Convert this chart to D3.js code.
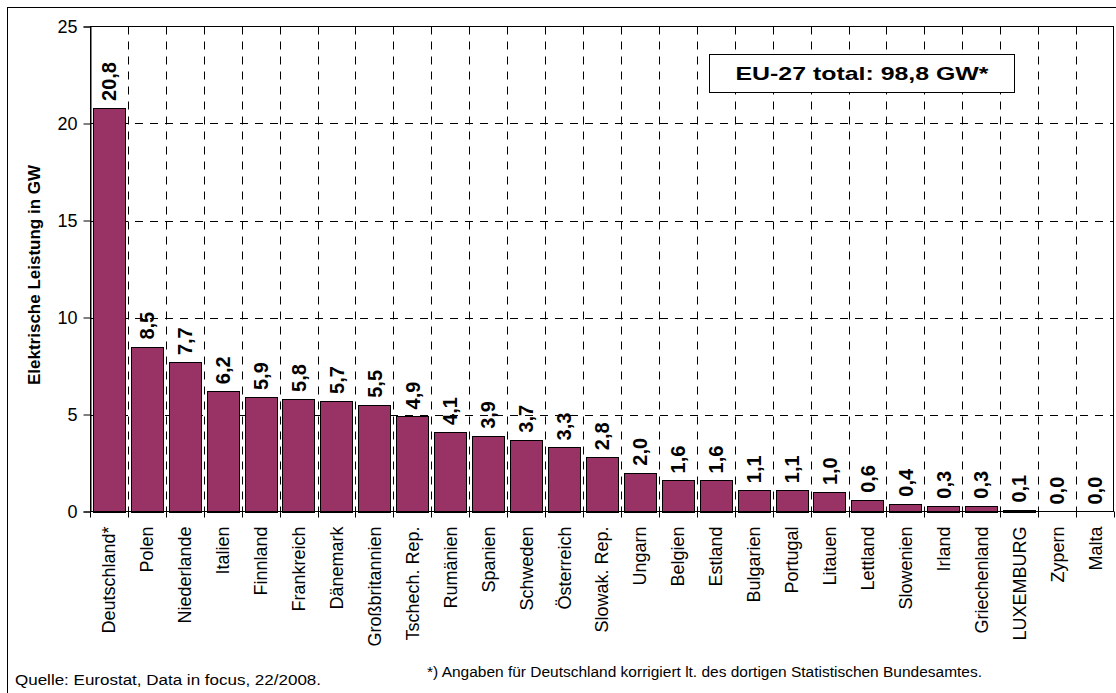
<!DOCTYPE html>
<html>
<head>
<meta charset="utf-8">
<script src="https://cdn.jsdelivr.net/npm/d3@7"></script>
<style>
  body { margin: 0; background: #fff; }
  text { font-family: "Liberation Sans", Arial, sans-serif; }
</style>
</head>
<body>
<div id="chart"></div>
<script>
// countries and values (GW)
var countries = ["Deutschland*", "Polen", "Niederlande", "Italien", "Finnland", "Frankreich",
    "Dänemark", "Großbritannien", "Tschech. Rep.", "Rumänien", "Spanien", "Schweden",
    "Österreich", "Slowak. Rep.", "Ungarn", "Belgien", "Estland", "Bulgarien", "Portugal",
    "Litauen", "Lettland", "Slowenien", "Irland", "Griechenland", "LUXEMBURG", "Zypern", "Malta"];
var values = [20.8, 8.5, 7.7, 6.2, 5.9, 5.8, 5.7, 5.5, 4.9, 4.1, 3.9, 3.7, 3.3, 2.8, 2.0,
    1.6, 1.6, 1.1, 1.1, 1.0, 0.6, 0.4, 0.3, 0.3, 0.1, 0.0, 0.0];
var yTicks = [0, 5, 10, 15, 20, 25];

var totalText = "EU-27 total: 98,8 GW*";
var yTitle = "Elektrische Leistung in GW";
var source = "Quelle: Eurostat, Data in focus, 22/2008.";
var footnote = "*) Angaben für Deutschland korrigiert lt. des dortigen Statistischen Bundesamtes.";

var W = 1116, H = 693;
var plot = { left: 90, right: 1114, top: 26.5, bottom: 511.5 };

var svg = d3.select("#chart")
    .append("svg")
    .attr("width", W)
    .attr("height", H);

// outer frame (cut off at right/bottom like the original)
svg.append("rect")
    .attr("x", 7.5).attr("y", 7.5)
    .attr("width", 1130).attr("height", 710)
    .attr("fill", "none")
    .attr("stroke", "#000");

var x = d3.scaleBand()
    .domain(countries)
    .range([plot.left, plot.right])
    .paddingInner(0.15)
    .paddingOuter(0.075);

var y = d3.scaleLinear()
    .domain([0, 25])
    .range([plot.bottom, plot.top]);

// category boundaries (grid lines and x ticks sit between the bars)
var boundaries = d3.range(countries.length + 1).map(function (i) {
    return plot.left + i * (plot.right - plot.left) / countries.length;
});

var fmt = function (v) { return d3.format(".1f")(v).replace(".", ","); };

// grid
var grid = svg.append("g").attr("class", "grid");
grid.selectAll("line.h")
    .data(yTicks.filter(function (d) { return d > 0 && d < 25; }))
    .enter()
    .append("line")
    .attr("class", "h")
    .attr("x1", plot.left).attr("x2", plot.right)
    .attr("y1", function (d) { return Math.round(y(d)) + 0.5; })
    .attr("y2", function (d) { return Math.round(y(d)) + 0.5; })
    .attr("stroke", "#000")
    .attr("stroke-width", 1)
    .attr("stroke-dasharray", "8,7");

grid.selectAll("line.v")
    .data(boundaries.slice(1, -1))
    .enter()
    .append("line")
    .attr("class", "v")
    .attr("x1", function (d) { return Math.round(d) + 0.5; })
    .attr("x2", function (d) { return Math.round(d) + 0.5; })
    .attr("y1", plot.top).attr("y2", plot.bottom)
    .attr("stroke", "#000")
    .attr("stroke-width", 1)
    .attr("stroke-dasharray", "8,7");

// bars
svg.append("g")
    .selectAll("rect")
    .data(values)
    .enter()
    .append("rect")
    .attr("x", function (d, i) { return Math.round(x(countries[i])) + 0.5; })
    .attr("y", function (d) { return Math.round(y(d)) + 0.5; })
    .attr("width", Math.round(x.bandwidth()))
    .attr("height", function (d) { return Math.max(0, Math.round(y(0)) - Math.round(y(d))); })
    .attr("fill", "#993366")
    .attr("stroke", "#000")
    .attr("stroke-width", 1);

// value labels
svg.append("g")
    .selectAll("text")
    .data(values)
    .enter()
    .append("text")
    .attr("transform", function (d, i) {
        return "translate(" + (x(countries[i]) + x.bandwidth() / 2) + "," + (y(d) - 7) + ") rotate(-90)";
    })
    .attr("dy", "0.36em")
    .attr("font-size", 20)
    .attr("font-weight", "bold")
    .text(fmt);

// plot frame
svg.append("rect")
    .attr("x", plot.left + 0.5).attr("y", plot.top)
    .attr("width", plot.right - plot.left - 1)
    .attr("height", plot.bottom - plot.top)
    .attr("fill", "none")
    .attr("stroke", "#000");

// y axis
var yAxis = svg.append("g")
    .attr("transform", "translate(" + (plot.left + 0.5) + ",0)")
    .call(d3.axisLeft(y).tickValues(yTicks).tickSize(7).tickPadding(6));
yAxis.select(".domain").attr("stroke", "#000");
yAxis.selectAll(".tick line").attr("stroke", "#000");
yAxis.selectAll("text")
    .attr("font-size", 18)
    .attr("fill", "#000")
    .style("font-family", "'Liberation Sans', Arial, sans-serif");

svg.append("text")
    .attr("transform", "translate(40," + ((plot.top + plot.bottom) / 2 + 6) + ") rotate(-90)")
    .attr("text-anchor", "middle")
    .attr("font-size", 17)
    .attr("font-weight", "bold")
    .text(yTitle);

// x axis: ticks at category boundaries
svg.append("line")
    .attr("x1", plot.left).attr("x2", plot.right)
    .attr("y1", plot.bottom).attr("y2", plot.bottom)
    .attr("stroke", "#000");
svg.append("g")
    .selectAll("line")
    .data(boundaries)
    .enter()
    .append("line")
    .attr("x1", function (d) { return Math.round(d) + 0.5; })
    .attr("x2", function (d) { return Math.round(d) + 0.5; })
    .attr("y1", plot.bottom).attr("y2", plot.bottom + 6)
    .attr("stroke", "#000");

svg.append("g")
    .selectAll("text")
    .data(countries)
    .enter()
    .append("text")
    .attr("transform", function (d) {
        return "translate(" + (x(d) + x.bandwidth() / 2) + "," + (plot.bottom + 15) + ") rotate(-90)";
    })
    .attr("dy", "0.36em")
    .attr("text-anchor", "end")
    .attr("font-size", 18)
    .text(function (d) { return d; });

// total box
svg.append("rect")
    .attr("x", 709.5).attr("y", 54.5)
    .attr("width", 305).attr("height", 38)
    .attr("fill", "#fff")
    .attr("stroke", "#000");
svg.append("text")
    .attr("x", 862).attr("y", 80)
    .attr("text-anchor", "middle")
    .attr("font-size", 19)
    .attr("font-weight", "bold")
    .attr("textLength", 253)
    .attr("lengthAdjust", "spacingAndGlyphs")
    .text(totalText);

// footnotes
svg.append("text")
    .attr("x", 15).attr("y", 685)
    .attr("font-size", 14)
    .attr("textLength", 306)
    .attr("lengthAdjust", "spacingAndGlyphs")
    .text(source);
svg.append("text")
    .attr("x", 427).attr("y", 677)
    .attr("font-size", 14)
    .attr("textLength", 555)
    .attr("lengthAdjust", "spacingAndGlyphs")
    .text(footnote);
</script>
</body>
</html>
